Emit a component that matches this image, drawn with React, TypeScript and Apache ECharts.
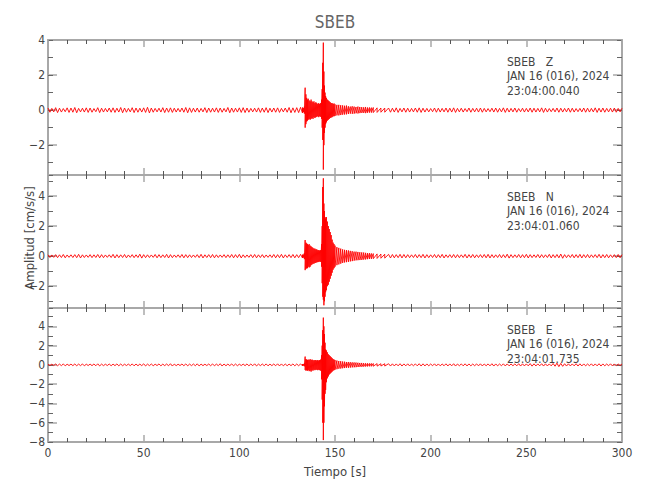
import React, { useEffect, useRef } from "react";
import * as echarts from "echarts";

// ---------- text ----------
const STATION = "SBEB";
const COMPONENTS = ["Z", "N", "E"];
const DATE_LINE = "JAN 16 (016), 2024";
const START_TIMES = ["23:04:00.040", "23:04:01.060", "23:04:01.735"];
const X_LABEL = "Tiempo [s]";
const Y_LABEL = "Amplitud [cm/s/s]";

// ---------- axes ----------
const X_MIN = 0;
const X_MAX = 300;
const X_STEP = 50;
const Y_MIN = [-3.7, -3.45, -8];
const Y_MAX = [4, 5.4, 5.9];

// ---------- sampling grid of the quiet parts (s) ----------
const NOISE_PRE_START = 0;
const NOISE_POST_START = 178;
const NOISE_STEP = 2;

// ---------- burst keyframe times (s) ----------
const BURST_T = [133, 133.5, 134, 134.4, 134.8, 135.2, 135.6, 136, 136.5, 137, 137.5, 138, 138.5, 139, 139.5, 140, 140.5, 141, 141.5, 142, 142.5, 143, 143.3, 143.6, 143.9, 144.2, 144.5, 144.8, 145.1, 145.5, 146, 146.5, 147, 147.5, 148, 148.5, 149, 149.5, 150, 151, 152, 153, 154, 155, 156, 157, 158, 159, 160, 161, 162, 163, 164, 165, 166, 167, 168, 169, 170, 172, 174, 176];

// ---------- Z ----------
const Z_NOISE_PRE = [.12, .10, .14, .11, .09, .13, .12, .15, .10, .11, .13, .12, .09, .14, .11, .10, .12, .13, .11, .15, .12, .10, .14, .12, .11, .13, .16, .12, .10, .11, .14, .12, .13, .11, .10, .12, .15, .13, .11, .12, .10, .14, .12, .11, .13, .12, .10, .15, .12, .11, .13, .14, .12, .10, .11, .13, .12, .14, .11, .12, .13, .10, .12, .15, .13, .14, .16];
const Z_HI = [.15, .12, .2, 1.28, .9, .7, .6, .65, .55, .5, .6, .5, .45, .5, .4, .45, .4, .35, .4, .35, .4, .6, 1.2, 2.7, 3.85, 2.2, 1.4, 1.0, .8, .7, .6, .55, .5, .45, .4, .4, .35, .38, .33, .3, .3, .28, .27, .25, .26, .22, .2, .22, .2, .18, .2, .18, .17, .16, .18, .15, .15, .14, .15, .13, .12, .12];
const Z_LO = [-.14, -.12, -.2, -1.0, -.8, -.65, -.6, -.55, -.5, -.55, -.5, -.45, -.5, -.4, -.45, -.4, -.38, -.35, -.4, -.35, -.38, -.5, -1.0, -1.7, -3.39, -2.0, -1.3, -1.0, -.8, -.7, -.6, -.55, -.5, -.45, -.42, -.4, -.35, -.35, -.33, -.3, -.3, -.28, -.26, -.25, -.24, -.22, -.2, -.21, -.2, -.18, -.19, -.17, -.16, -.16, -.17, -.15, -.14, -.14, -.14, -.13, -.12, -.12];
const Z_NOISE_POST = [.12, .11, .13, .10, .12, .11, .10, .12, .13, .11, .10, .09, .12, .11, .10, .12, .11, .13, .10, .11, .09, .12, .10, .11, .12, .10, .09, .11, .12, .10, .13, .11, .10, .12, .09, .11, .10, .12, .11, .10, .13, .11, .09, .10, .12, .11, .10, .12, .11, .09, .10, .12, .11, .10, .13, .11, .12, .10, .11, .12, .10, .11];

// ---------- N ----------
const N_NOISE_PRE = [.09, .08, .10, .09, .11, .08, .09, .10, .12, .09, .08, .10, .09, .11, .10, .08, .09, .12, .10, .09, .11, .08, .10, .09, .13, .10, .09, .08, .11, .10, .09, .12, .10, .08, .09, .11, .10, .09, .08, .10, .12, .09, .10, .11, .09, .08, .10, .09, .11, .10, .12, .09, .08, .10, .11, .09, .10, .08, .09, .11, .10, .12, .09, .10, .11, .10, .12];
const N_HI = [.1, .1, .2, 1.07, .9, .85, .8, .75, .8, .7, .65, .6, .55, .5, .5, .45, .45, .4, .4, .38, .4, .8, 2.0, 4.6, 5.18, 3.5, 3.0, 2.6, 2.5, 2.6, 2.3, 2.0, 1.8, 1.6, 1.4, 1.1, .9, .8, .7, .6, .55, .5, .45, .42, .4, .38, .35, .33, .3, .3, .28, .26, .25, .24, .22, .2, .2, .18, .17, .15, .14, .13];
const N_LO = [-.1, -.1, -.2, -.93, -.85, -.8, -.8, -.7, -.75, -.7, -.6, -.55, -.5, -.5, -.45, -.45, -.4, -.4, -.38, -.36, -.38, -.7, -1.8, -2.7, -2.9, -3.27, -3.0, -2.7, -2.4, -2.27, -2.0, -1.9, -1.7, -1.5, -1.3, -1.1, -.9, -.8, -.7, -.6, -.55, -.5, -.45, -.42, -.4, -.38, -.35, -.33, -.3, -.28, -.27, -.26, -.25, -.23, -.22, -.2, -.19, -.18, -.17, -.15, -.14, -.13];
const N_NOISE_POST = [.12, .11, .10, .12, .11, .10, .09, .11, .10, .12, .10, .09, .11, .10, .12, .09, .10, .11, .10, .09, .12, .10, .11, .09, .10, .11, .12, .10, .09, .11, .10, .13, .10, .09, .11, .10, .12, .10, .09, .11, .10, .09, .12, .10, .11, .14, .10, .09, .11, .10, .12, .10, .11, .09, .10, .12, .10, .11, .09, .10, .11, .10];

// ---------- E ----------
const E_NOISE_PRE = [.08, .07, .09, .08, .10, .07, .08, .09, .08, .10, .07, .08, .09, .11, .08, .07, .09, .08, .10, .09, .07, .08, .10, .09, .08, .11, .08, .09, .07, .10, .08, .09, .12, .08, .07, .09, .10, .08, .09, .11, .08, .07, .09, .10, .08, .12, .09, .08, .10, .09, .07, .08, .10, .09, .11, .08, .09, .10, .08, .09, .11, .10, .09, .08, .10, .09, .10];
const E_HI = [.08, .08, .15, .86, .6, .55, .5, .55, .5, .6, .5, .55, .5, .45, .5, .5, .45, .5, .45, .5, .55, 1.0, 2.0, 3.6, 4.9, 4.0, 3.2, 2.3, 1.6, 1.5, 1.3, 1.1, 1.0, .9, .8, .7, .6, .55, .5, .45, .4, .38, .35, .33, .3, .3, .28, .26, .25, .24, .22, .2, .2, .18, .17, .16, .15, .15, .14, .13, .12, .12];
const E_LO = [-.08, -.08, -.15, -.52, -.6, -.55, -.6, -.55, -.65, -.6, -.7, -.55, -.6, -.5, -.55, -.5, -.5, -.55, -.5, -.55, -.6, -1.5, -3.6, -6.0, -7.8, -6.0, -4.3, -3.0, -2.6, -1.8, -1.4, -1.2, -1.0, -.9, -.8, -.7, -.6, -.55, -.5, -.45, -.4, -.38, -.35, -.33, -.3, -.3, -.28, -.26, -.25, -.24, -.22, -.2, -.2, -.18, -.17, -.16, -.15, -.15, -.14, -.13, -.12, -.12];
const E_NOISE_POST = [.12, .11, .10, .12, .10, .11, .09, .10, .12, .11, .10, .09, .11, .10, .09, .11, .10, .12, .09, .10, .11, .10, .09, .10, .11, .09, .10, .12, .10, .09, .11, .10, .09, .10, .12, .11, .10, .13, .11, .10, .12, .11, .10, .14, .18, .15, .12, .11, .10, .12, .11, .10, .09, .11, .10, .12, .10, .09, .11, .10, .09, .10];

const TRACES = [
  { pre: Z_NOISE_PRE, hi: Z_HI, lo: Z_LO, post: Z_NOISE_POST },
  { pre: N_NOISE_PRE, hi: N_HI, lo: N_LO, post: N_NOISE_POST },
  { pre: E_NOISE_PRE, hi: E_HI, lo: E_LO, post: E_NOISE_POST },
];

function buildTrace(tr: { pre: number[]; hi: number[]; lo: number[]; post: number[] }) {
  const pts: number[][] = [];
  tr.pre.forEach((a, i) => {
    const t = NOISE_PRE_START + i * NOISE_STEP;
    if (t >= BURST_T[0]) return;
    pts.push([t, a], [t + NOISE_STEP / 2, -a]);
  });
  const n = Math.min(BURST_T.length, tr.hi.length, tr.lo.length);
  for (let i = 0; i < n; i++) {
    pts.push([BURST_T[i], tr.hi[i]], [BURST_T[i], tr.lo[i]]);
  }
  tr.post.forEach((a, i) => {
    const t = NOISE_POST_START + i * NOISE_STEP;
    if (t > X_MAX) return;
    pts.push([t, a]);
    if (t + NOISE_STEP / 2 <= X_MAX) pts.push([t + NOISE_STEP / 2, -a]);
  });
  return pts;
}

const FONT = "'Liberation Sans Narrow', 'DejaVu Sans Condensed', 'Roboto Condensed', sans-serif";
const AXIS_COLOR = "#a8a8a8";
const TEXT_COLOR = "#444";

export default function App() {
  const ref = useRef<HTMLDivElement>(null);
  useEffect(() => {
    if (!ref.current) return;
    const chart = echarts.init(ref.current, undefined, { renderer: "svg" });

    const LEFT = 48;
    const RIGHT_PX = 622;
    const TOPS = [40, 175, 308];
    const HEIGHTS = [135, 133, 134];
    const MAJOR_SPLIT = [4, 4, 7];
    const MINOR_SPLIT = [8, 9, 14];

    const grid: any[] = [];
    const xAxis: any[] = [];
    const yAxis: any[] = [];
    const series: any[] = [];
    const lineStyle = { color: AXIS_COLOR, width: 2 };
    const fmtY = (v: number) => {
      if (Math.abs(v - Math.round(v)) > 1e-6 || Math.round(v) % 2 !== 0) return "";
      const r = Math.round(v);
      return r < 0 ? "\u2212" + Math.abs(r) : String(r);
    };

    for (let g = 0; g < 3; g++) {
      grid.push({ left: LEFT, width: RIGHT_PX - LEFT, top: TOPS[g], height: HEIGHTS[g] });
      const isBottom = g === 2;
      xAxis.push({
        type: "value", gridIndex: g, position: "bottom", min: X_MIN, max: X_MAX, interval: X_STEP,
        axisLine: { show: true, onZero: false, lineStyle },
        axisTick: { show: true, inside: true, length: 7, lineStyle: { color: AXIS_COLOR, width: 1.5 } },
        minorTick: { show: true, splitNumber: 5, length: 4, lineStyle: { color: "#555", width: 1 } },
        splitLine: { show: false },
        axisLabel: { show: isBottom, color: TEXT_COLOR, fontSize: 12, fontFamily: FONT, margin: 5 },
      });
      xAxis.push({
        type: "value", gridIndex: g, position: "top", min: X_MIN, max: X_MAX, interval: X_STEP,
        axisLine: { show: true, onZero: false, lineStyle },
        axisTick: { show: true, inside: true, length: 7, lineStyle: { color: AXIS_COLOR, width: 1.5 } },
        minorTick: { show: true, splitNumber: 5, length: 4, lineStyle: { color: "#555", width: 1 } },
        splitLine: { show: false },
        axisLabel: { show: false },
      });
      for (const pos of ["left", "right"]) {
        yAxis.push({
          type: "value", gridIndex: g, position: pos, min: Y_MIN[g], max: Y_MAX[g], splitNumber: MAJOR_SPLIT[g],
          axisLine: { show: true, onZero: false, lineStyle },
          axisTick: { show: true, inside: true, length: 9, lineStyle: { color: AXIS_COLOR, width: 1.5 } },
          splitLine: { show: false },
          axisLabel: pos === "left"
            ? { show: true, color: TEXT_COLOR, fontSize: 12, fontFamily: FONT, margin: 3, formatter: fmtY, showMinLabel: true, showMaxLabel: true }
            : { show: false },
        });
        yAxis.push({
          type: "value", gridIndex: g, position: pos, min: Y_MIN[g], max: Y_MAX[g], splitNumber: MINOR_SPLIT[g],
          axisLine: { show: false, onZero: false },
          axisTick: { show: true, inside: true, length: 5, lineStyle: { color: "#666", width: 1 } },
          splitLine: { show: false },
          axisLabel: { show: false },
        });
      }
      series.push({
        type: "line",
        xAxisIndex: 2 * g,
        yAxisIndex: 4 * g,
        data: buildTrace(TRACES[g]),
        showSymbol: false,
        symbol: "none",
        lineStyle: { color: "#ff0000", width: 0.9 },
        z: 1,
      });
    }

    const graphic: any[] = [
      { type: "text", x: 335, y: 22, style: { text: STATION, fill: "#666", font: `17px ${FONT}`, textAlign: "center", textVerticalAlign: "middle" } },
      { type: "text", x: 29, y: 238, rotation: Math.PI / 2, style: { text: Y_LABEL, fill: TEXT_COLOR, font: `13px ${FONT}`, textAlign: "center", textVerticalAlign: "middle" } },
      { type: "text", x: 335, y: 471, style: { text: X_LABEL, fill: TEXT_COLOR, font: `13px ${FONT}`, textAlign: "center", textVerticalAlign: "middle" } },
    ];
    const ANNOT_OFFSETS = [22, 36, 51];
    for (let g = 0; g < 3; g++) {
      const lines = [STATION + "\u00a0\u00a0\u00a0" + COMPONENTS[g], DATE_LINE, START_TIMES[g]];
      lines.forEach((txt, k) => {
        graphic.push({
          type: "text", x: 507, y: TOPS[g] + ANNOT_OFFSETS[k],
          style: { text: txt, fill: TEXT_COLOR, font: `12px ${FONT}`, textAlign: "left", textVerticalAlign: "middle" },
          z: 10,
        });
      });
    }

    chart.setOption({
      animation: false,
      backgroundColor: "#ffffff",
      grid, xAxis, yAxis, series, graphic,
    });
    return () => chart.dispose();
  }, []);
  return <div ref={ref} style={{ position: "fixed", left: 0, top: 0, width: 650, height: 500 }} />;
}
